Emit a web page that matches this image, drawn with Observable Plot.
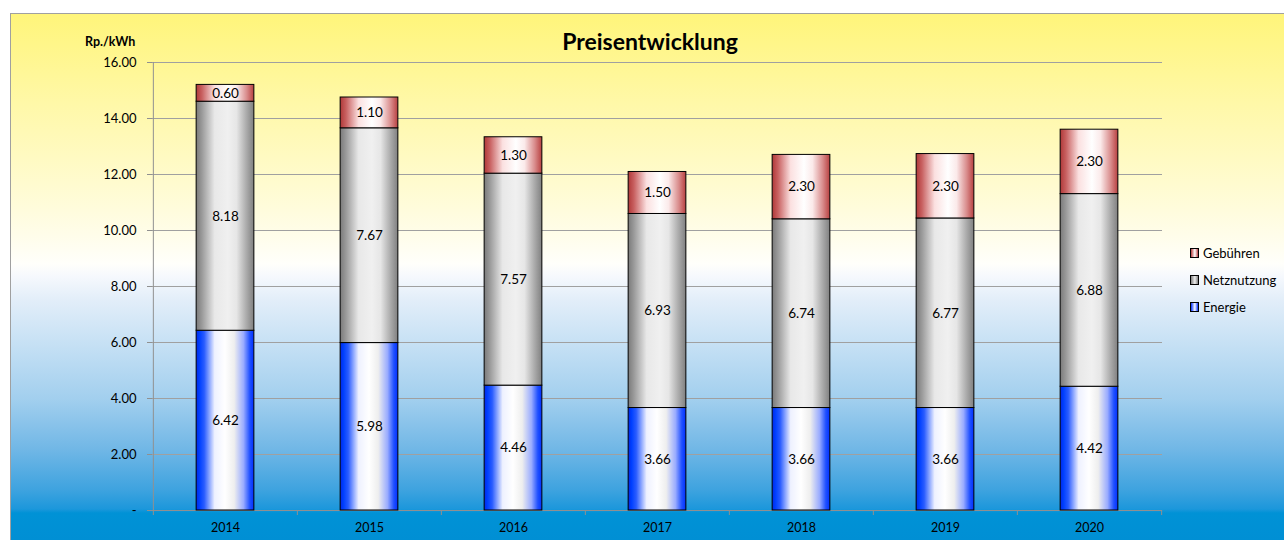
<!DOCTYPE html>
<html>
<head>
<meta charset="utf-8">
<script src="https://cdn.jsdelivr.net/npm/d3@7"></script>
<script src="https://cdn.jsdelivr.net/npm/@observablehq/plot@0.6"></script>
<style>
  html, body { margin: 0; padding: 0; background: #fff; }
  #wrap { position: relative; width: 1284px; height: 540px; overflow: hidden; font-family: Lato, "Open Sans", sans-serif; }
  #bg { position: absolute; left: 10px; top: 13px; right: -2px; bottom: -2px; border: 1px solid #a0a0a0;
        background: linear-gradient(to bottom, #fff57a 0px, #fff8a8 90px, #fffbcf 170px, #fffde9 220px, #fffffb 250px, #f6f9fd 262px, #e3eef9 285px, #c9e2f5 325px, #a2cfee 385px, #71b7e6 435px, #3ea3df 476px, #1c97db 495px, #0092d6 499px, #008fd4 527px); }
  #chart { position: absolute; left: 0; top: 0; }
  #title { position: absolute; left: 0; width: 1300px; top: 27px; text-align: center; font-weight: bold; font-size: 23px; color: #000; }
  #unit { position: absolute; left: 85px; top: 34px; font-weight: bold; font-size: 12.5px; color: #000; }
  #legend { position: absolute; left: 1190px; top: 239px; font-size: 13px; color: #000; }
  .li { display: flex; align-items: center; height: 27px; }
  .sw { width: 7px; height: 8px; border: 1px solid #000; margin-right: 4px; }
</style>
</head>
<body>
<div id="wrap">
  <div id="bg"></div>
  <div id="chart"></div>
  <div id="title">Preisentwicklung</div>
  <div id="unit">Rp./kWh</div>
  <div id="legend"></div>
</div>
<script>
// ---- data ----
const years = ["2014", "2015", "2016", "2017", "2018", "2019", "2020"];
const seriesNames = ["Energie", "Netznutzung", "Gebühren"];
const energie = [6.42, 5.98, 4.46, 3.66, 3.66, 3.66, 4.42];
const netznutzung = [8.18, 7.67, 7.57, 6.93, 6.74, 6.77, 6.88];
const gebuehren = [0.60, 1.10, 1.30, 1.50, 2.30, 2.30, 2.30];
const yTicks = [0, 2, 4, 6, 8, 10, 12, 14, 16];

const seriesValues = [energie, netznutzung, gebuehren];
const data = [];
years.forEach((y, i) => seriesNames.forEach((s, j) => data.push({year: y, series: s, value: seriesValues[j][i]})));

// ---- layout ----
const W = 1284, H = 540, ML = 152, MR = 122, MT = 62, MB = 30;
const step = (W - ML - MR) / years.length;
const barW = 58;
const inset = (step - barW) / 2;

const gradIds = ["gE", "gN", "gG"];
const fills = gradIds.map(id => `url(#${id})`);

const svg = Plot.plot({
  width: W, height: H,
  marginLeft: ML, marginRight: MR, marginTop: MT, marginBottom: MB,
  style: {background: "transparent", fontFamily: "Lato, 'Open Sans', sans-serif", fontSize: "12px", color: "#000"},
  x: {domain: years, padding: 0, label: null},
  y: {domain: [0, 16], label: null},
  color: {domain: seriesNames, range: fills},
  marks: [
    Plot.gridY(yTicks, {stroke: "#a0a0a0", strokeOpacity: 1}),
    Plot.axisY(yTicks, {tickSize: 5, tickPadding: 11, stroke: "#909090", fill: "#000", fontSize: 13,
      tickFormat: d => d === 0 ? "-" : d.toFixed(2), label: null}),
    Plot.axisX({tickSize: 0, tickPadding: 13, fontSize: 12.5, fill: "#000", label: null}),
    // left axis line
    Plot.ruleX([years[0]], {x: d => d, dx: -step / 2, y1: 0, y2: 16, stroke: "#909090"}),
    // category boundary ticks below the axis
    Plot.ruleX(years, {x: d => d, dx: -step / 2, y1: 0, y2: 0, insetBottom: -5, stroke: "#909090"}),
    Plot.ruleX([years[years.length - 1]], {x: d => d, dx: step / 2, y1: 0, y2: 0, insetBottom: -5, stroke: "#909090"}),
    Plot.ruleY([0], {stroke: "#909090"}),
    Plot.barY(data, Plot.stackY({x: "year", y: "value", fill: "series", stroke: "#000", strokeWidth: 1,
      insetLeft: inset, insetRight: inset})),
    Plot.text(data, Plot.stackY({x: "year", y: "value", text: d => d.value.toFixed(2), fill: "#000", fontSize: 13.5}))
  ]
});

const defs = d3.select(svg).insert("defs", ":first-child");
const gradStops = {
  gE: [[0, "#0028e8"], [0.06, "#0040ff"], [0.14, "#2a5cff"], [0.32, "#eef1ff"], [0.5, "#ffffff"], [0.66, "#eeeeee"], [0.82, "#9aacff"], [0.93, "#2050ff"], [1, "#0030ff"]],
  gN: [[0, "#7a7a7a"], [0.1, "#9a9a9a"], [0.32, "#e8e8e8"], [0.55, "#f0f0f0"], [0.7, "#e6e6e6"], [0.88, "#a8a8a8"], [1, "#808080"]],
  gG: [[0, "#b03838"], [0.1, "#c86060"], [0.32, "#fbe0e0"], [0.55, "#ffffff"], [0.7, "#fbeaea"], [0.88, "#d88a8a"], [1, "#b84040"]]
};
for (const id of gradIds) {
  const g = defs.append("linearGradient").attr("id", id).attr("x1", 0).attr("x2", 1).attr("y1", 0).attr("y2", 0);
  for (const [o, c] of gradStops[id]) g.append("stop").attr("offset", o).attr("stop-color", c);
}
document.getElementById("chart").appendChild(svg);

// legend (top item = top of stack)
const cssGrad = {
  gE: "linear-gradient(to right, #0030ff, #ffffff 55%, #0030ff)",
  gN: "linear-gradient(to right, #808080, #eeeeee 55%, #808080)",
  gG: "linear-gradient(to right, #b83c3c, #ffffff 55%, #b84040)"
};
const legend = document.getElementById("legend");
[...seriesNames].reverse().forEach(name => {
  const id = gradIds[seriesNames.indexOf(name)];
  const row = document.createElement("div");
  row.className = "li";
  row.innerHTML = `<div class="sw" style="background:${cssGrad[id]}"></div><span>${name}</span>`;
  legend.appendChild(row);
});
</script>
</body>
</html>
